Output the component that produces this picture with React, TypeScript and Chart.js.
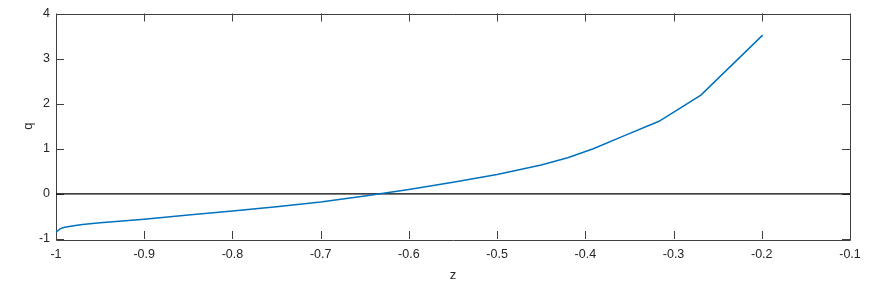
import React, { useEffect, useRef } from "react";
import { Chart, registerables } from "chart.js";

Chart.register(...registerables);

const zValues = [-1.0, -0.995, -0.99, -0.98, -0.97, -0.95, -0.9, -0.85, -0.8, -0.75, -0.7, -0.65, -0.6, -0.55, -0.5, -0.45, -0.42, -0.391, -0.357, -0.3165, -0.269, -0.199];
const qValues = [-0.85, -0.77, -0.74, -0.705, -0.68, -0.64, -0.56, -0.47, -0.38, -0.285, -0.18, -0.045, 0.1, 0.26, 0.43, 0.64, 0.8, 1.0, 1.28, 1.61, 2.19, 3.52];
const zeroLineZ = [-1, -0.1];
const zeroLineQ = [0, 0];
const xTickValues = [-1, -0.9, -0.8, -0.7, -0.6, -0.5, -0.4, -0.3, -0.2, -0.1];
const yTickValues = [-1, 0, 1, 2, 3, 4];
const xLabel = "z";
const yLabel = "q";

const FONT = "'Liberation Sans', Arial, Helvetica, sans-serif";
const TEXT = "#262626";
const AXIS = "#404040";

const fmt = (v: number) => {
  const r = Math.round(v * 10) / 10;
  return r === 0 ? "0" : String(r);
};

const boxPlugin = {
  id: "matlabBox",
  beforeDatasetsDraw(chart: any) {
    const { ctx, chartArea, scales } = chart;
    const { left, right, top, bottom } = chartArea;
    const tl = 8;
    ctx.save();
    ctx.strokeStyle = AXIS;
    ctx.lineWidth = 1;
    ctx.beginPath();
    ctx.rect(Math.round(left) + 0.5, Math.round(top) + 0.5, Math.round(right - left), Math.round(bottom - top));
    ctx.stroke();
    ctx.beginPath();
    for (const v of xTickValues) {
      const x = Math.round(scales.x.getPixelForValue(v)) + 0.5;
      ctx.moveTo(x, bottom);
      ctx.lineTo(x, bottom - tl);
      ctx.moveTo(x, top);
      ctx.lineTo(x, top + tl);
    }
    for (const v of yTickValues) {
      const y = Math.round(scales.y.getPixelForValue(v)) + 0.5;
      ctx.moveTo(left, y);
      ctx.lineTo(left + tl, y);
      ctx.moveTo(right, y);
      ctx.lineTo(right - tl, y);
    }
    ctx.stroke();
    ctx.restore();
  },
};

export default function App() {
  const ref = useRef<HTMLCanvasElement | null>(null);
  useEffect(() => {
    document.body.style.margin = "0";
    const canvas = ref.current!;
    const chart = new Chart(canvas, {
      type: "scatter",
      data: {
        datasets: [
          {
            data: zeroLineZ.map((z, i) => ({ x: z, y: zeroLineQ[i] })),
            showLine: true,
            borderColor: "#000000",
            borderWidth: 1.2,
            pointRadius: 0,
            order: 2,
          },
          {
            data: zValues.map((z, i) => ({ x: z, y: qValues[i] })),
            showLine: true,
            borderColor: "#0072BD",
            borderWidth: 1.5,
            pointRadius: 0,
            tension: 0,
            order: 1,
          },
        ],
      },
      options: {
        animation: false,
        responsive: false,
        devicePixelRatio: 1,
        layout: { padding: { left: 0, right: 20, top: 13, bottom: 0 } },
        plugins: { legend: { display: false }, tooltip: { enabled: false } },
        scales: {
          x: {
            type: "linear",
            min: -1,
            max: -0.1,
            border: { display: false },
            grid: { display: false, drawTicks: false },
            afterBuildTicks: (s: any) => {
              s.ticks = xTickValues.map((v) => ({ value: v }));
            },
            afterFit: (s: any) => {
              s.height = 45;
            },
            ticks: {
              callback: (v: any) => fmt(Number(v)),
              color: TEXT,
              font: { family: FONT, size: 12.5 },
              padding: 8,
              maxRotation: 0,
              autoSkip: false,
            },
            title: {
              display: true,
              text: xLabel,
              color: TEXT,
              font: { family: FONT, size: 13 },
              padding: { top: 2, bottom: 1 },
            },
          },
          y: {
            type: "linear",
            min: -1,
            max: 4,
            border: { display: false },
            grid: { display: false, drawTicks: false },
            afterBuildTicks: (s: any) => {
              s.ticks = yTickValues.map((v) => ({ value: v }));
            },
            afterFit: (s: any) => {
              s.width = 56;
            },
            ticks: {
              callback: (v: any) => fmt(Number(v)),
              color: TEXT,
              font: { family: FONT, size: 12.5 },
              padding: 6,
              autoSkip: false,
            },
            title: {
              display: true,
              text: yLabel,
              color: TEXT,
              font: { family: FONT, size: 13 },
              padding: { top: 21, bottom: 0 },
            },
          },
        },
      },
      plugins: [boxPlugin],
    } as any);
    return () => chart.destroy();
  }, []);
  return <canvas ref={ref} width={870} height={284} style={{ display: "block" }} />;
}
